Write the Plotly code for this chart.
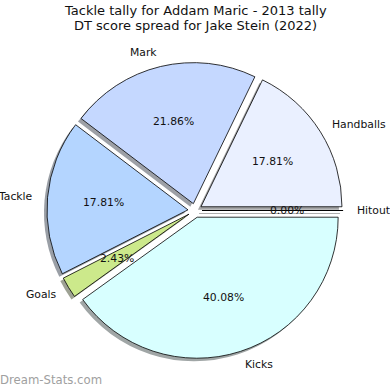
import math
import plotly.graph_objects as go

# ---- data ----
labels = ["Handballs", "Mark", "Tackle", "Goals", "Kicks", "Hitout"]
values = [44, 54, 44, 6, 99, 0]
colors = ["#eaf0ff", "#c5d8ff", "#b4d5ff", "#cce98b", "#d8ffff", "#eaf0ff"]
title_lines = ["Tackle tally for Addam Maric - 2013 tally",
               "DT score spread for Jake Stein (2022)"]
watermark = "Dream-Stats.com"

# ---- layout geometry (pixels) ----
W = H = 390
cx, cy = 195.0, 210.5      # pie centre
R = 141.0                   # pie radius
pull = 0.05                 # explode fraction
shadow_off = 3.0
half = R * (1 + pull)       # half domain size as plotly computes it
total = sum(values)
# plotly's counterclockwise pies end the first slice at `rotation`; start it at 3 o'clock
rotation = 90 - 360.0 * values[0] / total


def dom(x0, y0):
    return dict(x=[(x0 - half) / W, (x0 + half) / W],
                y=[1 - (y0 + half) / H, 1 - (y0 - half) / H])


def shade(hexc):
    r, g, b = (int(hexc[i:i + 2], 16) for i in (1, 3, 5))
    f = lambda c: int(round(0.5 * 255 + 0.5 * 0.3 * c))
    return "rgb(%d,%d,%d)" % (f(r), f(g), f(b))


fig = go.Figure()
common = dict(labels=labels, values=values, sort=False, direction="counterclockwise",
              rotation=rotation, pull=[pull] * len(values), textinfo="none",
              hoverinfo="label+percent", showlegend=False)
fig.add_trace(go.Pie(**common, domain=dom(cx - shadow_off, cy + shadow_off),
                     marker=dict(colors=[shade(c) for c in colors], line=dict(width=0))))
fig.add_trace(go.Pie(**common, domain=dom(cx, cy),
                     marker=dict(colors=colors, line=dict(color="black", width=0.8))))

# ---- labels & percentages computed from the data ----
ann = []
shapes = []
start = 0.0
font_lbl = dict(family="DejaVu Sans", size=10.8, color="#111")
base = dict(xref="paper", yref="paper", showarrow=False, borderpad=0, borderwidth=0)
for lab, v in zip(labels, values):
    frac = v / total
    mid = (start + frac / 2) * 2 * math.pi
    ox, oy = cx + pull * R * math.cos(mid), cy - pull * R * math.sin(mid)
    lx, ly = ox + 1.1 * R * math.cos(mid), oy - 1.1 * R * math.sin(mid)
    px, py = ox + 0.6 * R * math.cos(mid), oy - 0.6 * R * math.sin(mid)
    ann.append(dict(base, x=lx / W, y=1 - ly / H, text=lab,
                    xanchor="left" if math.cos(mid) > 0 else "right",
                    yanchor="middle", font=font_lbl))
    ann.append(dict(base, x=px / W, y=1 - py / H, text="%.2f%%" % (frac * 100),
                    xanchor="center", yanchor="middle", font=font_lbl))
    if v == 0:
        a = start * 2 * math.pi
        for dx, dy, col in ((-shadow_off, shadow_off, "#999"), (0, 0, "black")):
            shapes.append(dict(type="line", xref="paper", yref="paper",
                               x0=(ox + dx) / W, y0=1 - (oy + dy) / H,
                               x1=(ox + dx + R * math.cos(a)) / W,
                               y1=1 - (oy + dy - R * math.sin(a)) / H,
                               line=dict(color=col, width=0.8)))
    start += frac

for i, t in enumerate(title_lines):
    ann.append(dict(base, x=0.5, y=1 - (10.5 + 15.5 * i) / H, text=t,
                    xanchor="center", yanchor="middle",
                    font=dict(family="DejaVu Sans", size=13, color="#111")))
ann.append(dict(base, x=0, y=1 - 380 / H, text=watermark,
                xanchor="left", yanchor="middle",
                font=dict(family="DejaVu Sans", size=11.7, color="#a0a0a0")))

fig.update_layout(width=W, height=H, margin=dict(l=0, r=0, t=0, b=0),
                  paper_bgcolor="white", plot_bgcolor="white",
                  annotations=ann, shapes=shapes)
fig.write_html("out.html", config={"displayModeBar": False},
               post_script="document.body.style.margin='0';")
